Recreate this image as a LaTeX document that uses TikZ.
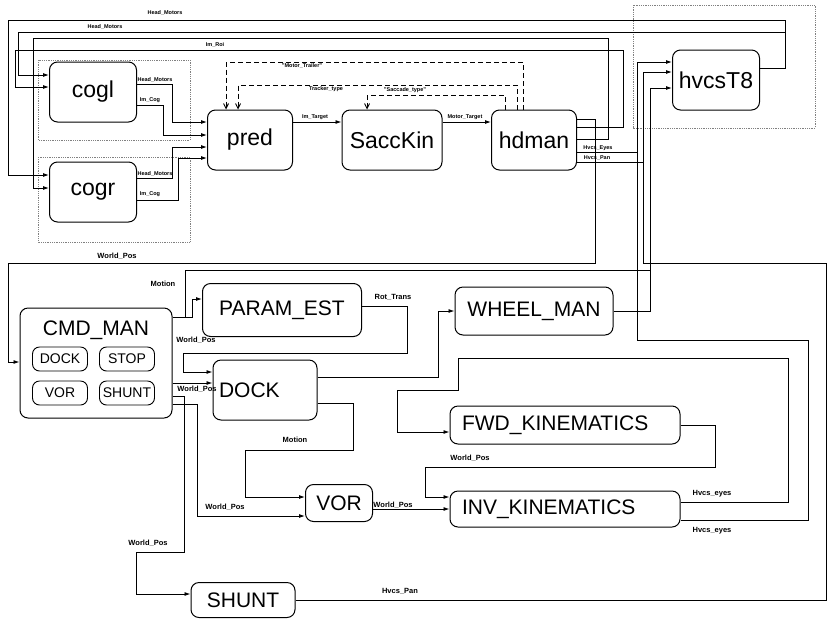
\documentclass[tikz,border=0pt]{standalone}
\usepackage{fontspec}
\setmainfont{Liberation Sans}
\usetikzlibrary{arrows.meta, positioning, calc}

\begin{document}
\begin{tikzpicture}[x=1pt, y=-1pt,
    box/.style={rectangle, rounded corners=8pt, draw=black, line width=1pt, inner sep=0pt, font=\fontsize{23}{26}\selectfont},
    bigbox/.style={box, font=\fontsize{21}{24}\selectfont},
    subbox/.style={rectangle, rounded corners=7pt, draw=black, line width=0.9pt, minimum width=55pt, minimum height=24pt, inner sep=0pt, font=\fontsize{14}{16}\selectfont},
    wire/.style={line width=0.9pt},
    arrow/.style={wire, -{Latex[length=6pt, width=4pt]}},
    ctrl/.style={wire, dash pattern=on 5pt off 3pt, -{Straight Barb[length=5pt, width=5pt]}},
    grp/.style={draw=gray, densely dotted, line width=0.8pt},
    tag/.style={font=\bfseries\fontsize{5.5}{6}\selectfont, inner sep=1pt},
    sig/.style={font=\bfseries\fontsize{7.5}{8}\selectfont, inner sep=1pt}
]
\useasboundingbox (0,0) rectangle (829,619);

% Vision part
\draw[grp] (38,60) rectangle (190,140);
\draw[grp] (38,157) rectangle (190,242);
\draw[grp] (633,5) rectangle (815,128);

\node[box, minimum width=87pt, minimum height=60pt] (cogl) at (93,92) {cogl};
\node[box, minimum width=87pt, minimum height=60pt] (cogr) at (93,192) {cogr};
\node[box, minimum width=85pt, minimum height=60pt] (pred) at (250,140) {pred};
\node[box, minimum width=100pt, minimum height=60pt] (sacc) at (392,140) {SaccKin};
\node[box, minimum width=85pt, minimum height=60pt] (hdman) at (534,140) {hdman};
\node[box, minimum width=87pt, minimum height=60pt] (hvcs) at (716,80) {hvcsT8};

\coordinate (hmsplit) at (785,32);
\draw[arrow] (hvcs.east |- 0,68) -| (785,20) -| (8,175) -- (cogr.west |- 0,175);
\draw[arrow] (hmsplit) -| (18,75) -- (cogl.west |- 0,75);
\draw[arrow] (hdman.east |- 0,127) -| (623,50) -| (15,87) -- (cogl.west |- 0,87);
\draw[arrow] (hdman.east |- 0,139) -| (608,38) -| (33,188) -- (cogr.west |- 0,188);
\node[tag] (hm1) at (165,13) {Head\_Motors};
\node[tag] (hm2) at (105,27) {Head\_Motors};
\node[tag] (roi) at (215,45) {Im\_Roi};

\draw[arrow] (cogl.east |- 0,84) -| (172,122) -- (pred.west |- 0,122);
\draw[arrow] (cogl.east |- 0,105) -| (163,135) -- (pred.west |- 0,135);
\draw[arrow] (cogr.east |- 0,178) -| (172,147) -- (pred.west |- 0,147);
\draw[arrow] (cogr.east |- 0,200) -| (178,158) -- (pred.west |- 0,158);
\node[tag] (hm3) at (155,80) {Head\_Motors};
\node[tag] (cog1) at (150,100) {Im\_Cog};
\node[tag] (hm4) at (155,174) {Head\_Motors};
\node[tag] (cog2) at (150,194) {Im\_Cog};

\draw[arrow] (pred.east |- 0,122) -- (sacc.west |- 0,122);
\draw[arrow] (sacc.east |- 0,122) -- (hdman.west |- 0,122);
\node[tag] (imt) at (315,117) {Im\_Target};
\node[tag] (mot) at (465,117) {Motor\_Target};

% feedback of the types
\draw[ctrl] (hdman.north -| 523,0) |- (226,62) -- (pred.north -| 226,0);
\draw[ctrl] (hdman.north -| 517,0) |- (238,85) -- (pred.north -| 238,0);
\draw[ctrl] (hdman.north -| 505,0) |- (367,95) -- (sacc.north -| 367,0);
\node[tag] (mtype) at (302,66) {"Motor\_Trailer"};
\node[tag] (ttype) at (326,89) {Tracker\_type};
\node[tag] (stype) at (405,90) {"Saccade\_type"};

\draw[arrow] (hdman.east |- 0,152) -| (637,62) -- (hvcs.west |- 0,62);
\draw[arrow] (hdman.east |- 0,162) -| (643,72) -- (hvcs.west |- 0,72);
\node[tag] (heyes) at (598,148) {Hvcs\_Eyes};
\node[tag] (hpan) at (597,158) {Hvcs\_Pan};

% Base part
\node[bigbox, minimum width=152pt, minimum height=110pt] (cmdman) at (96,363) {};
\node[font=\fontsize{21}{24}\selectfont, inner sep=0pt] (cmdtitle) at (96,330) {CMD\_MAN};
\node[subbox] (sdock) at (60,359) {DOCK};
\node[subbox] (sstop) at (127,359) {STOP};
\node[subbox] (svor) at (60,393) {VOR};
\node[subbox] (sshunt) at (127,393) {SHUNT};

\node[bigbox, minimum width=159pt, minimum height=53pt] (param) at (282,310) {PARAM\_EST};
\node[bigbox, minimum width=104pt, minimum height=60pt, text width=92pt, align=left] (dock) at (265,390) {DOCK};
\node[bigbox, minimum width=158pt, minimum height=48pt] (wheel) at (534,311) {WHEEL\_MAN};
\node[bigbox, minimum width=230pt, minimum height=38pt, text width=206pt, align=left] (fwd) at (565,425) {FWD\_KINEMATICS};
\node[bigbox, minimum width=230pt, minimum height=36pt, text width=206pt, align=left] (inv) at (565,509) {INV\_KINEMATICS};
\node[bigbox, minimum width=67pt, minimum height=37pt] (vor) at (339,503) {VOR};
\node[bigbox, minimum width=104pt, minimum height=35pt] (shunt) at (243,600) {SHUNT};

\draw[arrow] (hdman.east |- 0,119) -| (595,263) -| (8,362) -- (cmdman.west |- 0,362);
\node[sig] (wp1) at (117,256) {World\_Pos};

\draw[wire] (cmdman.east |- 0,317) -| (185,270) -- (650,270);
\draw[arrow] (wheel.east) -| (650,88) -- (hvcs.west |- 0,88);
\node[sig] (mo1) at (163,284) {Motion};

\draw[arrow] (cmdman.east |- 0,317) -| (192,299) -- (param.west |- 0,299);
\node[sig] (wp2) at (196,340) {World\_Pos};

\draw[arrow] (param.east |- 0,306) -| (407,353) -| (183,372) -- (dock.west |- 0,372);
\node[sig] (rot) at (393,297) {Rot\_Trans};

\draw[arrow] (cmdman.east |- 0,383) -- (dock.west |- 0,383);
\node[sig] (wp3) at (197,389) {World\_Pos};

\draw[arrow] (cmdman.east |- 0,396) -| (184,552) -| (136,594) -- (shunt.west |- 0,594);
\node[sig] (wp4) at (148,543) {World\_Pos};

\draw[arrow] (cmdman.east |- 0,404) -| (197,516) -- (vor.west |- 0,516);
\node[sig] (wp5) at (225,507) {World\_Pos};

\draw[arrow] (dock.east |- 0,377) -| (438,311) -- (wheel.west);
\draw[arrow] (dock.east |- 0,403) -| (353,450) -| (245,497) -- (vor.west |- 0,497);
\node[sig] (mo2) at (295,440) {Motion};

\draw[arrow] (vor.east |- 0,509) -- (inv.west |- 0,509);
\node[sig] (wp6) at (393,505) {World\_Pos};

\draw[arrow] (fwd.east) -| (715,467) -| (425,497) -- (inv.west |- 0,497);
\node[sig] (wp7) at (470,458) {World\_Pos};

\draw[arrow] (inv.east |- 0,502) -| (788,358) -| (458,390) -| (397,432) -- (fwd.west |- 0,432);
\draw[wire] (inv.east |- 0,520) -| (808,340) -| (637,152);
\node[sig] (he1) at (712,494) {Hvcs\_eyes};
\node[sig] (he2) at (712,531) {Hvcs\_eyes};

\draw[wire] (shunt.east) -| (826,263) -| (643,162);
\node[sig] (hp) at (400,591) {Hvcs\_Pan};

\end{tikzpicture}
\end{document}
